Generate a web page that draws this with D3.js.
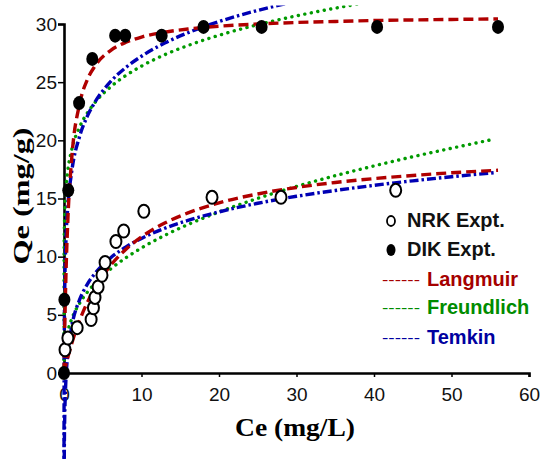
<!DOCTYPE html>
<html>
<head>
<meta charset="utf-8">
<script src="https://cdn.jsdelivr.net/npm/d3@7.9.0/dist/d3.min.js"></script>
<style>
  body { margin: 0; background: #fff; }
  svg { display: block; }
  .tick text { font-family: Arial, "Liberation Sans", sans-serif; fill: #111; }
</style>
</head>
<body>
<svg id="chart" width="541" height="459"></svg>
<script>
// ---------- Data ----------
const nrkCe = [0.13, 0.5, 1.7, 3.5, 3.8, 4.0, 4.4, 4.9, 5.3, 6.7, 7.7, 10.3, 19.1, 28.0, 42.8];
const nrkQe = [2.0, 3.0, 3.9, 4.6, 5.6, 6.5, 7.4, 8.4, 9.5, 11.3, 12.2, 13.9, 15.1, 15.1, 15.7];

const dikCe = [0, 0.05, 0.55, 1.95, 3.65, 6.6, 7.9, 12.6, 18.0, 25.5, 40.4, 56.0];
const dikQe = [0, 6.3, 15.7, 23.2, 27.0, 29.0, 29.0, 29.0, 29.75, 29.75, 29.75, 29.75];

// fitted model curves, [Ce, Qe] pairs
const nrkLangmuir = [[0,0],[0.25,0.72],[0.5,1.36],[1,2.54],[2,4.5],[3,6.05],[4,7.31],[6,9.24],[8,10.64],[10,11.7],[13,12.89],[16,13.76],[20,14.63],[25,15.39],[30,15.95],[35,16.38],[40,16.71],[45,16.98],[50,17.21],[56,17.43]];
const nrkFreundlich = [[0,0],[0.01,0.87],[0.05,1.56],[0.1,2.01],[0.25,2.81],[0.5,3.61],[1,4.65],[2,5.98],[3,6.94],[4,7.7],[6,8.93],[8,9.91],[10,10.75],[13,11.83],[16,12.76],[20,13.84],[25,15.01],[30,16.04],[35,16.96],[40,17.8],[45,18.59],[50,19.32],[55.5,20.1]];
const nrkTemkin = [[0.02,-8.87],[0.05,-5.86],[0.1,-3.58],[0.2,-1.3],[0.3,0.04],[0.5,1.72],[1,4.0],[2,6.28],[3,7.61],[4,8.56],[6,9.89],[8,10.84],[10,11.57],[13,12.44],[16,13.12],[20,13.85],[25,14.59],[30,15.19],[35,15.69],[40,16.13],[45,16.52],[50,16.87],[55.5,17.22]];

const dikLangmuir = [[0,0],[0.01,0.46],[0.05,2.15],[0.1,4.02],[0.25,8.4],[0.5,13.2],[1,18.48],[2,23.1],[3,25.2],[4,26.4],[6,27.72],[8,28.43],[10,28.88],[13,29.3],[16,29.57],[20,29.81],[25,30.0],[30,30.13],[35,30.22],[40,30.3],[45,30.35],[50,30.39],[56,30.44]];
const dikFreundlich = [[0,0],[0.001,7.4],[0.01,10.17],[0.05,12.7],[0.1,13.97],[0.25,15.86],[0.5,17.45],[1,19.2],[2,21.13],[3,22.34],[4,23.25],[6,24.59],[8,25.58],[10,26.38],[13,27.36],[16,28.15],[20,29.03],[25,29.94],[30,30.7],[35,31.36],[40,31.95]];
const dikTemkin = [[0.002,-9.39],[0.005,-5.45],[0.01,-2.47],[0.02,0.51],[0.05,4.45],[0.1,7.43],[0.25,11.37],[0.5,14.35],[1,17.33],[2,20.31],[3,22.06],[4,23.29],[6,25.04],[8,26.27],[10,27.23],[13,28.36],[16,29.25],[20,30.21],[25,31.17],[30,31.96]];

const xTicks = [0, 10, 20, 30, 40, 50, 60];
const yTicks = [0, 5, 10, 15, 20, 25, 30];

const legendItems = [
  { label: "NRK Expt.", type: "open" },
  { label: "DIK Expt.", type: "filled" },
  { label: "Langmuir", type: "line", color: "#a50000" },
  { label: "Freundlich", type: "line", color: "#008c00" },
  { label: "Temkin", type: "line", color: "#0000a0" }
];

// ---------- Setup ----------
const svg = d3.select("#chart");
const x = d3.scaleLinear().domain([0, 60]).range([64, 529]);
const y = d3.scaleLinear().domain([0, 30]).range([373, 24]);

svg.append("rect").attr("width", 541).attr("height", 459).attr("fill", "#fff");

// clip the fits at the top of the frame like the original
svg.append("clipPath").attr("id", "clip")
  .append("rect")
  .attr("x", 0).attr("y", y(31.6))
  .attr("width", 541).attr("height", 459);

// ---------- Axes ----------
const xAxis = svg.append("g")
  .attr("transform", `translate(0,${y(0)})`)
  .call(d3.axisBottom(x).tickValues(xTicks).tickSizeOuter(0).tickSize(4).tickPadding(11));
xAxis.selectAll("text").style("font-size", "19px");

const yAxis = svg.append("g")
  .attr("transform", `translate(${x(0)},0)`)
  .call(d3.axisLeft(y).tickValues(yTicks).tickSizeOuter(0).tickSize(6).tickPadding(1));
yAxis.selectAll("text").style("font-size", "19px");

svg.selectAll(".domain").attr("stroke", "#000").attr("stroke-width", 2.6);
svg.selectAll(".tick line").attr("stroke", "#000").attr("stroke-width", 1.5);

// axis titles
svg.append("text")
  .attr("x", 295).attr("y", 436)
  .attr("text-anchor", "middle")
  .attr("textLength", 120).attr("lengthAdjust", "spacingAndGlyphs")
  .style("font-family", "'Times New Roman', 'Liberation Serif', serif")
  .style("font-weight", "bold").style("font-size", "25px")
  .text("Ce (mg/L)");

svg.append("text")
  .attr("transform", "translate(29,196) rotate(-90)")
  .attr("text-anchor", "middle")
  .attr("textLength", 137).attr("lengthAdjust", "spacingAndGlyphs")
  .style("font-family", "'Times New Roman', 'Liberation Serif', serif")
  .style("font-weight", "bold").style("font-size", "24px")
  .text("Qe (mg/g)");

// ---------- Fitted curves ----------
const line = d3.line().x((d) => x(d[0])).y((d) => y(d[1])).curve(d3.curveMonotoneX);

const curves = [
  { data: nrkFreundlich, color: "#009a00", dash: "0.1,6.5", cap: "round" },
  { data: dikFreundlich, color: "#009a00", dash: "0.1,6.5", cap: "round" },
  { data: nrkTemkin, color: "#0000b4", dash: "9,3,2.5,3", cap: "butt" },
  { data: dikTemkin, color: "#0000b4", dash: "9,3,2.5,3", cap: "butt" },
  { data: nrkLangmuir, color: "#b00000", dash: "10,5", cap: "butt" },
  { data: dikLangmuir, color: "#b00000", dash: "10,5", cap: "butt" }
];

const curveG = svg.append("g").attr("clip-path", "url(#clip)");
curves.forEach((c) => {
  curveG.append("path")
    .attr("d", line(c.data))
    .attr("fill", "none")
    .attr("stroke", c.color)
    .attr("stroke-width", 3.4)
    .attr("stroke-linecap", c.cap)
    .attr("stroke-dasharray", c.dash);
});

// ---------- Experimental points ----------
svg.append("g").selectAll("ellipse")
  .data(nrkCe.map((c, i) => [c, nrkQe[i]]))
  .join("ellipse")
  .attr("cx", (d) => x(d[0])).attr("cy", (d) => y(d[1]))
  .attr("rx", 5.5).attr("ry", 6.5)
  .attr("fill", "#fff").attr("stroke", "#000").attr("stroke-width", 2);

svg.append("g").selectAll("ellipse")
  .data(dikCe.map((c, i) => [c, dikQe[i]]))
  .join("ellipse")
  .attr("cx", (d) => x(d[0])).attr("cy", (d) => y(d[1]))
  .attr("rx", 6).attr("ry", 7)
  .attr("fill", "#000");

// ---------- Legend ----------
const legend = svg.append("g").style("font-family", "Arial, 'Liberation Sans', sans-serif")
  .style("font-weight", "bold").style("font-size", "20px");
const legendY = [227, 256, 286, 314, 344];

legendItems.forEach((item, i) => {
  const ly = legendY[i];
  if (item.type === "open") {
    legend.append("ellipse").attr("cx", 391).attr("cy", ly - 6).attr("rx", 4).attr("ry", 5)
      .attr("fill", "#fff").attr("stroke", "#000").attr("stroke-width", 1.8);
  } else if (item.type === "filled") {
    legend.append("ellipse").attr("cx", 391).attr("cy", ly - 6).attr("rx", 4.5).attr("ry", 6)
      .attr("fill", "#000");
  }
  if (item.type === "line") {
    legend.append("text").attr("x", 382).attr("y", ly - 1)
      .attr("fill", item.color).style("font-size", "15px").style("font-weight", "normal")
      .attr("textLength", 38).attr("lengthAdjust", "spacingAndGlyphs")
      .text("------");
    legend.append("text").attr("x", 427).attr("y", ly)
      .attr("fill", item.color).text(item.label);
  } else {
    legend.append("text").attr("x", 407).attr("y", ly)
      .attr("fill", "#111").text(item.label);
  }
});
</script>
</body>
</html>
